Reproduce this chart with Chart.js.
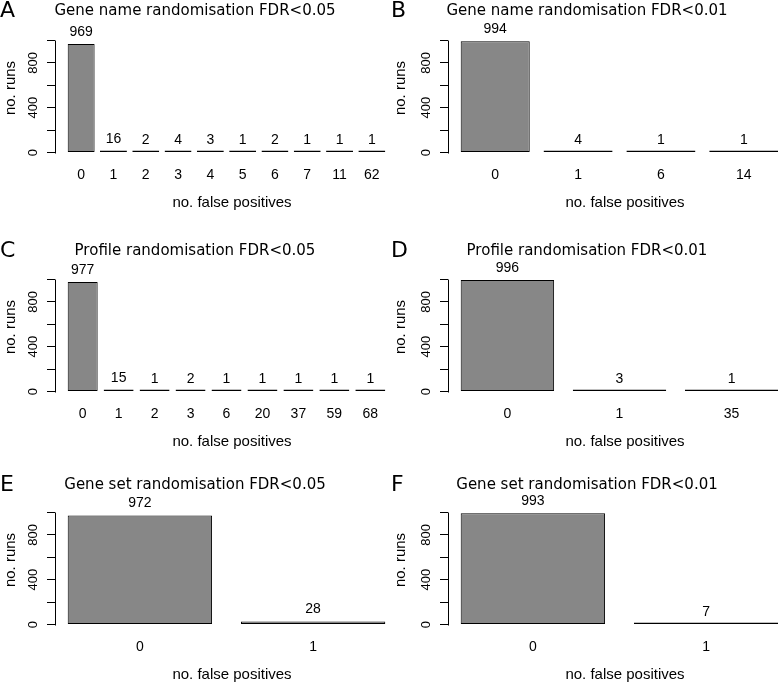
<!DOCTYPE html>
<html><head><meta charset="utf-8">
<script src="https://cdn.jsdelivr.net/npm/chart.js@4"></script>
<style>
html,body{margin:0;padding:0;background:#fff;overflow:hidden;width:778px;height:684px}
canvas{position:absolute}
</style></head><body>
<script>
// ---- data ----
const panelLetters = ['A','B','C','D','E','F'];
const panelTitles = [
  'Gene name randomisation FDR<0.05',
  'Gene name randomisation FDR<0.01',
  'Profile randomisation FDR<0.05',
  'Profile randomisation FDR<0.01',
  'Gene set randomisation FDR<0.05',
  'Gene set randomisation FDR<0.01'
];
const catsA = ['0','1','2','3','4','5','6','7','11','62'];
const runsA = [969,16,2,4,3,1,2,1,1,1];
const catsB = ['0','1','6','14'];
const runsB = [994,4,1,1];
const catsC = ['0','1','2','3','6','20','37','59','68'];
const runsC = [977,15,1,2,1,1,1,1,1];
const catsD = ['0','1','35'];
const runsD = [996,3,1];
const catsE = ['0','1'];
const runsE = [972,28];
const catsF = ['0','1'];
const runsF = [993,7];
const yTickValues = [0,200,400,600,800,1000];
const yTickLabels = ['0','','400','','800',''];
const xAxisTitle = 'no. false positives';
const yAxisTitle = 'no. runs';

const panelCats = [catsA,catsB,catsC,catsD,catsE,catsF];
const panelVals = [runsA,runsB,runsC,runsD,runsE,runsF];

// ---- layout (pixels) ----
const colLeft = [0, 389];
const colAxis = [55, 59];
const colTitleX = [195, 198];
const colLetterX = [0, 2];
const colYTitleX = [11, 12];
const colXTitleX = [232, 236];
const rowTop = [0, 239, 472];
const rowTitleY = [11, 12.5, 13.5];
const plotW = 343, canvasH = 213, padTop = 36, xScaleH = 56;

const TITLE_FONT = '15px "DejaVu Sans"';
const LETTER_FONT = '22px "DejaVu Sans"';
const LAB_FAMILY = '"Liberation Sans", Arial, sans-serif';

function makePanel(p) {
  const col = p % 2, row = Math.floor(p / 2);
  const cats = panelCats[p], vals = panelVals[p];
  const n = cats.length;
  const half = 0.5 / 1.2;
  const span = (n - 1) + 2 * half;
  const ext = 0.04 * span;
  const cv = document.createElement('canvas');
  const W = colAxis[col] + plotW;
  cv.width = W; cv.height = canvasH;
  cv.style.left = colLeft[col] + 'px';
  cv.style.top = rowTop[row] + 'px';
  cv.style.width = W + 'px'; cv.style.height = canvasH + 'px';
  document.body.appendChild(cv);

  const deco = {
    id: 'deco' + p,
    afterDraw(chart) {
      const ctx = chart.ctx;
      const ys = chart.scales.y, xs = chart.scales.x;
      ctx.save();
      // axis line from first to last tick (R style)
      const ax = Math.round(chart.chartArea.left) + 0.5;
      ctx.strokeStyle = '#000'; ctx.lineWidth = 1;
      ctx.beginPath();
      ctx.moveTo(ax, Math.round(ys.getPixelForValue(yTickValues[0])) + 0.5);
      ctx.lineTo(ax, Math.round(ys.getPixelForValue(yTickValues[yTickValues.length - 1])) + 0.5);
      ctx.stroke();
      ctx.fillStyle = '#000';
      // value labels
      ctx.font = '14px ' + LAB_FAMILY;
      ctx.textAlign = 'center'; ctx.textBaseline = 'middle';
      vals.forEach((v, i) => {
        ctx.fillText(String(v), xs.getPixelForValue(i), ys.getPixelForValue(v) - 12);
      });
      // title
      ctx.font = TITLE_FONT;
      ctx.fillText(panelTitles[p], colTitleX[col], rowTitleY[row]);
      // letter
      ctx.font = LETTER_FONT;
      ctx.textAlign = 'left';
      ctx.fillText(panelLetters[p], colLetterX[col], rowTitleY[row]);
      // axis titles
      ctx.font = '15px ' + LAB_FAMILY;
      ctx.textAlign = 'center';
      ctx.fillText(xAxisTitle, colXTitleX[col], 203);
      ctx.translate(colYTitleX[col], 88);
      ctx.rotate(-Math.PI / 2);
      ctx.fillText(yAxisTitle, 0, 0);
      ctx.restore();
    }
  };

  new Chart(cv, {
    type: 'bar',
    data: {
      datasets: [{
        data: vals.map((v, i) => ({ x: i, y: v })),
        backgroundColor: '#878787',
        borderColor: '#000000',
        borderWidth: 1,
        borderSkipped: false,
        barPercentage: 1 / 1.2,
        categoryPercentage: 1,
        minBarLength: 2
      }]
    },
    options: {
      responsive: false, animation: false, devicePixelRatio: 1,
      layout: { padding: { top: padTop, left: 0, right: 0, bottom: 0 } },
      plugins: { legend: { display: false }, tooltip: { enabled: false }, title: { display: false } },
      scales: {
        x: {
          type: 'linear', offset: false,
          min: -half - ext, max: (n - 1) + half + ext,
          grid: { display: false, drawTicks: false, offset: false },
          border: { display: false },
          afterBuildTicks(s) { s.ticks = cats.map((c, i) => ({ value: i })); },
          afterFit(s) { s.height = xScaleH; },
          ticks: {
            autoSkip: false, minRotation: 0, maxRotation: 0, padding: 10, color: '#000',
            font: { family: LAB_FAMILY, size: 14 },
            callback: (v) => cats[Math.round(v)]
          }
        },
        y: {
          type: 'linear', min: -40, max: 1040,
          afterBuildTicks(s) { s.ticks = yTickValues.map(v => ({ value: v })); },
          afterFit(s) { s.width = colAxis[col]; },
          grid: { display: true, drawOnChartArea: false, drawTicks: true, tickLength: 8, color: '#000', lineWidth: 1 },
          border: { display: false },
          ticks: {
            autoSkip: false, minRotation: 90, maxRotation: 90, crossAlign: 'center', padding: 3, color: '#000',
            font: { family: LAB_FAMILY, size: 13 },
            callback: (v) => yTickLabels[yTickValues.indexOf(v)]
          }
        }
      }
    },
    plugins: [deco]
  });
}
for (let p = 0; p < 6; p++) makePanel(p);
</script>
</body></html>
